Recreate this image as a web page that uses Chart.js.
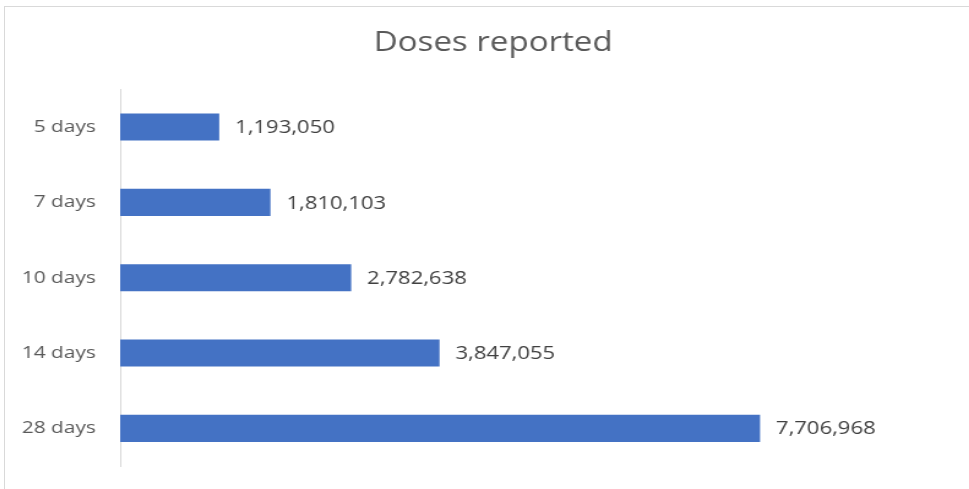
<!DOCTYPE html>
<html>
<head>
<meta charset="utf-8">
<script src="https://cdn.jsdelivr.net/npm/chart.js@4"></script>
<style>
  html, body { margin: 0; padding: 0; background: #fff; overflow: hidden; }
  #frame {
    position: absolute; left: 4px; top: 6px; width: 965px; height: 483px;
    border-top: 1px solid #d9d9d9; border-left: 1px solid #d9d9d9;
    overflow: hidden;
  }
  /* la imagen original está estirada en horizontal */
  #wrap {
    position: absolute; left: 0; top: 0; width: 797px; height: 482px;
    transform: scaleX(1.225); transform-origin: 0 0;
  }
</style>
</head>
<body>
<div id="frame"><div id="wrap"><canvas id="dosesChart"></canvas></div></div>
<script>
const categories = ['5 days', '7 days', '10 days', '14 days', '28 days'];
const doses = [1193050, 1810103, 2782638, 3847055, 7706968];
const axisMax = 9000000;

// etiquetas de valor a la derecha de cada barra
const valueLabels = {
    id: 'valueLabels',
    afterDatasetsDraw(chart) {
        const ctx = chart.ctx;
        const meta = chart.getDatasetMeta(0);
        ctx.save();
        ctx.font = '18px "Open Sans"';
        ctx.fillStyle = '#404040';
        ctx.textAlign = 'left';
        ctx.textBaseline = 'middle';
        meta.data.forEach((bar, i) => {
            ctx.fillText(doses[i].toLocaleString('en-US'), bar.x + 13, bar.y + 1);
        });
        ctx.restore();
    }
};

new Chart(document.getElementById('dosesChart'), {
    type: 'bar',
    data: {
        labels: categories,
        datasets: [{
            label: 'Doses reported',
            data: doses,
            backgroundColor: '#4472c4',
            borderWidth: 0,
            barPercentage: 0.72,
            categoryPercentage: 0.5
        }]
    },
    options: {
        indexAxis: 'y',
        responsive: true,
        maintainAspectRatio: false,
        animation: false,
        layout: { padding: { top: 0, right: 0, bottom: 23, left: 0 } },
        plugins: {
            legend: { display: false },
            tooltip: { enabled: false },
            title: {
                display: true,
                text: 'Doses reported',
                color: '#595959',
                font: { family: 'Open Sans', size: 27, weight: 'normal' },
                padding: { top: 20, bottom: 30 }
            }
        },
        scales: {
            x: {
                display: false,
                min: 0,
                max: axisMax
            },
            y: {
                afterFit(scale) {
                    scale.width = 94;
                    scale.paddingTop = 0;
                    scale.paddingBottom = 0;
                },
                grid: { display: false, drawTicks: false },
                border: { display: true, color: '#d9d9d9', width: 1 },
                ticks: {
                    color: '#595959',
                    padding: 20,
                    font: { family: 'Open Sans', size: 17 }
                }
            },
            // espacio vacío a la derecha para las etiquetas
            yRight: {
                type: 'category',
                position: 'right',
                afterFit(scale) {
                    scale.width = 93;
                    scale.paddingTop = 0;
                    scale.paddingBottom = 0;
                },
                grid: { display: false, drawTicks: false },
                border: { display: false },
                ticks: { display: false }
            }
        }
    },
    plugins: [valueLabels]
});
</script>
</body>
</html>
